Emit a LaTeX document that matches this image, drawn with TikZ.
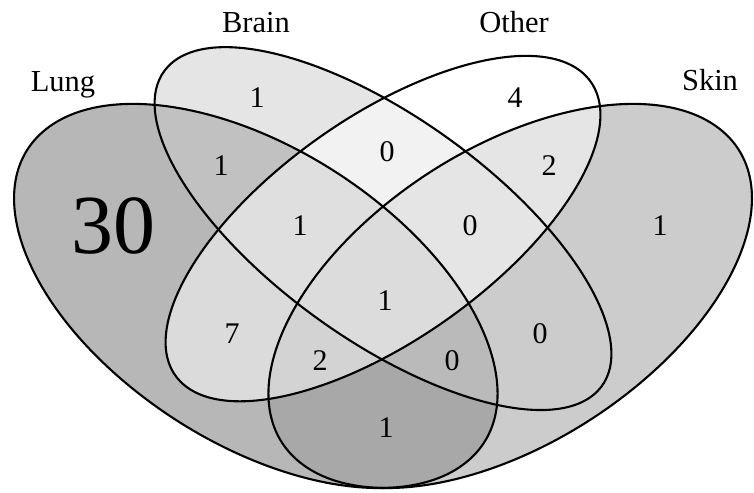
\documentclass[tikz,border=0pt]{standalone}
\usepackage{fontspec}
\setmainfont{Liberation Serif}
\definecolor{cLung}{gray}{0.44}
\definecolor{cSkin}{gray}{0.60}
\definecolor{cBrain}{gray}{0.80}
\definecolor{cOther}{gray}{1.00}
\begin{document}
\begin{tikzpicture}[x=1pt,y=1pt,
  setfill/.style={fill=#1, fill opacity=0.5},
  setline/.style={draw=black, line width=2.1pt},
  num/.style={anchor=base, inner sep=0pt, font=\fontsize{30}{30}\selectfont},
  big/.style={anchor=base, inner sep=0pt, font=\fontsize{84}{84}\selectfont},
  cat/.style={anchor=base, inner sep=0pt, font=\fontsize{30.5}{30.5}\selectfont}]
\useasboundingbox (0,0) rectangle (754,-492);
\begin{scope}[shift={(-41,-612.6)}]
\begin{scope}[xscale=848, yscale=673.7]
  % fills, in drawing order
  \fill[setfill=cLung,  rotate around={135:(0.35,0.47)}] (0.35,0.47) ellipse (0.35 and 0.20);
  \fill[setfill=cSkin,  rotate around={45:(0.65,0.47)}]  (0.65,0.47) ellipse (0.35 and 0.20);
  \fill[setfill=cBrain, rotate around={135:(0.50,0.57)}] (0.50,0.57) ellipse (0.35 and 0.15);
  \fill[setfill=cOther, rotate around={45:(0.50,0.57)}]  (0.50,0.57) ellipse (0.33 and 0.15);
  % outlines
  \draw[setline, rotate around={135:(0.35,0.47)}] (0.35,0.47) ellipse (0.35 and 0.20);
  \draw[setline, rotate around={45:(0.65,0.47)}]  (0.65,0.47) ellipse (0.35 and 0.20);
  \draw[setline, rotate around={135:(0.50,0.57)}] (0.50,0.57) ellipse (0.35 and 0.15);
  \draw[setline, rotate around={45:(0.50,0.57)}]  (0.50,0.57) ellipse (0.33 and 0.15);
\end{scope}
\end{scope}
% category labels
\node[cat] (lung)  at (63,-92)  {Lung};
\node[cat] (brain) at (256,-33) {Brain};
\node[cat] (other) at (514,-33) {Other};
\node[cat] (skin)  at (710,-91) {Skin};
% counts
\node[num] (n1)  at (257,-107) {1};
\node[num] (n2)  at (387,-161) {0};
\node[num] (n3)  at (515,-107) {4};
\node[num] (n4)  at (221,-175) {1};
\node[num] (n5)  at (300,-235) {1};
\node[num] (n6)  at (385,-310) {1};
\node[num] (n7)  at (470,-235) {0};
\node[num] (n8)  at (549,-175) {2};
\node[big] (n9)  at (113,-253) {30};
\node[num] (n10) at (232,-343) {7};
\node[num] (n11) at (320,-370) {2};
\node[num] (n12) at (452,-370) {0};
\node[num] (n13) at (540,-343) {0};
\node[num] (n14) at (660,-235) {1};
\node[num] (n15) at (386,-437) {1};
\end{tikzpicture}
\end{document}
